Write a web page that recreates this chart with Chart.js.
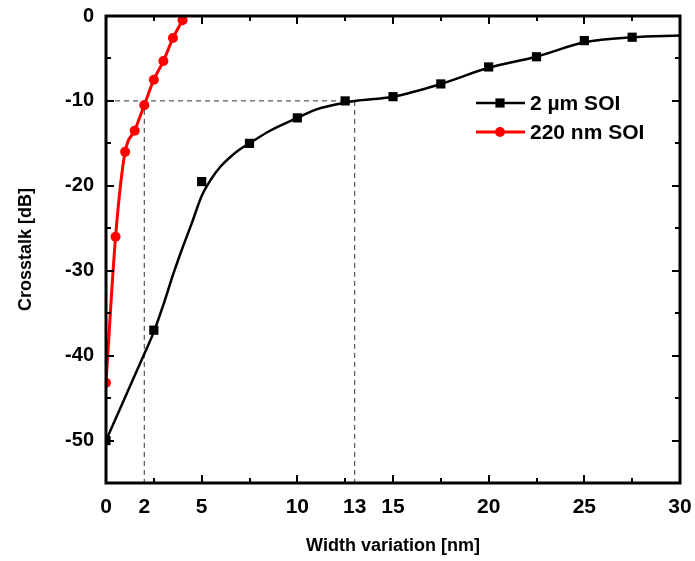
<!DOCTYPE html>
<html>
<head>
<meta charset="utf-8">
<script src="https://cdn.jsdelivr.net/npm/chart.js@4/dist/chart.umd.min.js"></script>
<style>
  html, body { margin: 0; padding: 0; background: #fff; }
  canvas { display: block; }
</style>
</head>
<body>
<canvas id="c" width="695" height="561"></canvas>
<script>
// ---- data ----
const xTickLabels = [0, 2, 5, 10, 13, 15, 20, 25, 30];
const yTickLabels = [-50, -40, -30, -20, -10, 0];

// 2 µm SOI measured points (squares)
const soi2umX = [0, 2.5, 5, 7.5, 10, 12.5, 15, 17.5, 20, 22.5, 25, 27.5];
const soi2umY = [-50, -37, -19.5, -15, -12, -10, -9.5, -8, -6, -4.8, -2.9, -2.5];

// 2 µm SOI fitted curve (black line)
const fit2umX = [0, 1, 2, 2.5, 3, 3.5, 4, 4.5, 5, 5.5, 6, 6.5, 7, 7.5, 8.5, 10, 11, 12.5, 13, 15, 17.5, 20, 22.5, 25, 27.5, 30];
const fit2umY = [-50, -44.9, -39.8, -37.2, -34, -30.5, -27.3, -24.3, -21.2, -19.2, -17.7, -16.6, -15.7, -15, -13.6, -12, -11, -10.2, -10, -9.5, -8, -6.1, -4.8, -3.1, -2.5, -2.3];

// 220 nm SOI (red)
const soi220X = [0, 0.5, 1, 1.5, 2, 2.5, 3, 3.5, 4];
const soi220Y = [-43.2, -26, -16, -13.5, -10.5, -7.5, -5.3, -2.6, -0.5];

// dashed guide lines
const guideLevel = -10;
const guideX = [2, 13];

const seriesNames = ['2 \u00b5m SOI', '220 nm SOI'];

const toXY = (xs, ys) => xs.map((x, i) => ({ x, y: ys[i] }));

const FONT = "'Liberation Sans', Arial, Helvetica, sans-serif";

const guideSets = [
  { data: [{ x: 0, y: guideLevel }, { x: guideX[1], y: guideLevel }] },
  { data: [{ x: guideX[0], y: guideLevel }, { x: guideX[0], y: -55 }] },
  { data: [{ x: guideX[1], y: guideLevel }, { x: guideX[1], y: -55 }] }
].map(d => Object.assign(d, {
  borderColor: '#333', borderWidth: 1, borderDash: [5, 4],
  pointRadius: 0, showLine: true, order: 10, tension: 0
}));

const frameAndTicks = {
  id: 'frameAndTicks',
  afterDatasetsDraw(chart) {
    const { ctx, chartArea: a, scales: { x, y } } = chart;
    ctx.save();
    ctx.strokeStyle = '#000';
    ctx.lineWidth = 2;
    ctx.beginPath();
    for (let v = 0; v <= 30; v += 2.5) {
      const px = Math.round(x.getPixelForValue(v));
      const L = (v % 5 === 0) ? 8 : 5;
      ctx.moveTo(px, a.bottom); ctx.lineTo(px, a.bottom - L);
      ctx.moveTo(px, a.top); ctx.lineTo(px, a.top + L);
    }
    for (let v = -55; v <= 0; v += 5) {
      const py = Math.round(y.getPixelForValue(v));
      const L = (v % 10 === 0) ? 8 : 5;
      ctx.moveTo(a.left, py); ctx.lineTo(a.left + L, py);
      ctx.moveTo(a.right, py); ctx.lineTo(a.right - L, py);
    }
    ctx.stroke();
    ctx.lineWidth = 3;
    ctx.strokeRect(a.left, a.top, a.right - a.left, a.bottom - a.top);
    ctx.restore();
  }
};

const customLegend = {
  id: 'customLegend',
  afterDraw(chart) {
    const { ctx } = chart;
    const items = [
      { ds: chart.data.datasets[1], text: seriesNames[0], y: 103 },
      { ds: chart.data.datasets[2], text: seriesNames[1], y: 132 }
    ];
    ctx.save();
    items.forEach(it => {
      ctx.strokeStyle = it.ds.borderColor;
      ctx.lineWidth = it.ds.borderWidth;
      ctx.beginPath();
      ctx.moveTo(476, it.y); ctx.lineTo(525, it.y);
      ctx.stroke();
      ctx.fillStyle = it.ds.pointBackgroundColor;
      ctx.strokeStyle = it.ds.pointBorderColor;
      Chart.helpers.drawPoint(ctx, {
        pointStyle: it.ds.pointStyle,
        radius: it.ds.pointRadius, borderWidth: 0
      }, 500, it.y);
      ctx.fillStyle = '#000';
      ctx.font = "bold 21px " + FONT;
      ctx.textBaseline = 'middle';
      ctx.textAlign = 'left';
      ctx.fillText(it.text, 530, it.y + 1);
    });
    ctx.restore();
  }
};

const chart = new Chart(document.getElementById('c'), {
  type: 'scatter',
  data: {
    datasets: [
      { // fitted curve
        data: toXY(fit2umX, fit2umY), showLine: true, borderColor: '#000', borderWidth: 2.5,
        pointRadius: 0, cubicInterpolationMode: 'monotone', order: 3
      },
      { // measured squares
        label: seriesNames[0],
        data: toXY(soi2umX, soi2umY), showLine: false, borderColor: '#000', borderWidth: 2.5,
        pointStyle: 'rect', pointRadius: 6.5, pointBackgroundColor: '#000', pointBorderColor: '#000',
        pointBorderWidth: 0, order: 2
      },
      { // 220 nm SOI
        label: seriesNames[1],
        data: toXY(soi220X, soi220Y), showLine: true, borderColor: '#ff0000', borderWidth: 3,
        pointStyle: 'circle', pointRadius: 5, pointBackgroundColor: '#ff0000', pointBorderColor: '#ff0000',
        pointBorderWidth: 0, cubicInterpolationMode: 'monotone', order: 1
      },
      ...guideSets
    ]
  },
  options: {
    responsive: false,
    devicePixelRatio: 1,
    animation: false,
    layout: { padding: { left: 0, right: 15, top: 16, bottom: 0 } },
    plugins: { legend: { display: false }, tooltip: { enabled: false } },
    scales: {
      x: {
        type: 'linear', min: 0, max: 30,
        afterBuildTicks: s => { s.ticks = xTickLabels.map(v => ({ value: v })); },
        afterFit: s => { s.height = 78; s.paddingLeft = 0; s.paddingRight = 0; },
        grid: { display: false, drawTicks: false },
        border: { display: false },
        ticks: { color: '#000', padding: 12, font: { family: FONT, size: 21, weight: 'bold' }, maxRotation: 0, autoSkip: false },
        title: { display: true, text: 'Width variation [nm]', color: '#000',
                 font: { family: FONT, size: 18, weight: 'bold' }, padding: { top: 0, bottom: 4 } }
      },
      y: {
        type: 'linear', min: -55, max: 0,
        afterBuildTicks: s => { s.ticks = yTickLabels.map(v => ({ value: v })); },
        afterFit: s => { s.width = 106; s.paddingTop = 0; s.paddingBottom = 0; },
        grid: { display: false, drawTicks: false },
        border: { display: false },
        ticks: { color: '#000', padding: 12, font: { family: FONT, size: 20, weight: 'bold' }, autoSkip: false },
        title: { display: true, text: 'Crosstalk [dB]', color: '#000',
                 font: { family: FONT, size: 18, weight: 'bold' }, padding: { top: 15, bottom: 0 } }
      }
    }
  },
  plugins: [frameAndTicks, customLegend]
});
</script>
</body>
</html>
